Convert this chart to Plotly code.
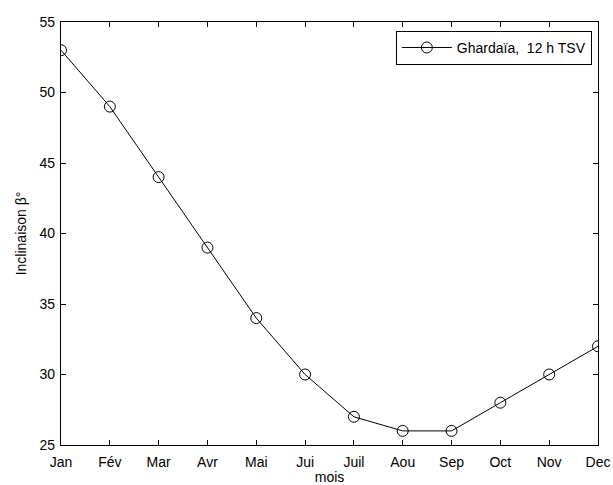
import plotly.graph_objects as go

months = ["Jan", "Fév", "Mar", "Avr", "Mai", "Jui", "Juil", "Aou", "Sep", "Oct", "Nov", "Dec"]
inclinaison = [53, 49, 44, 39, 34, 30, 27, 26, 26, 28, 30, 32]
y_ticks = [25, 30, 35, 40, 45, 50, 55]

x_idx = list(range(1, len(months) + 1))

fig = go.Figure()
fig.add_trace(go.Scatter(
    x=x_idx, y=inclinaison,
    mode="lines+markers",
    name="Ghardaïa,  12 h TSV",
    line=dict(color="black", width=1),
    marker=dict(symbol="circle-open", size=11, color="black", line=dict(width=1, color="black")),
))

font = dict(family="Liberation Sans, Arial, sans-serif", color="black")

fig.update_layout(
    width=613, height=485,
    margin=dict(l=61, r=15, t=22, b=40),
    paper_bgcolor="white", plot_bgcolor="white",
    font=dict(size=14, **font),
    showlegend=True,
    legend=dict(
        x=0.9885, y=0.979, xanchor="right", yanchor="top",
        bgcolor="white", bordercolor="black", borderwidth=1,
        font=dict(size=14, **font),
        itemwidth=50,
        tracegroupgap=0,
    ),
    xaxis=dict(
        range=[1, 12], tickmode="array", tickvals=x_idx, ticktext=months,
        ticks="inside", ticklen=5, tickcolor="black",
        ticklabelstandoff=4, automargin=False,
        showline=True, linecolor="black", linewidth=1.3, mirror="ticks",
        showgrid=False, zeroline=False,
        title=dict(text="mois", font=dict(size=14, **font), standoff=4),
    ),
    yaxis=dict(
        range=[25, 55], tickmode="array", tickvals=y_ticks,
        ticks="inside", ticklen=5, tickcolor="black",
        ticklabelstandoff=2, automargin=False,
        showline=True, linecolor="black", linewidth=1.3, mirror="ticks",
        showgrid=False, zeroline=False,
        title=dict(text="Inclinaison β°", font=dict(size=14, **font), standoff=9),
    ),
)

fig.write_html("out.html")
